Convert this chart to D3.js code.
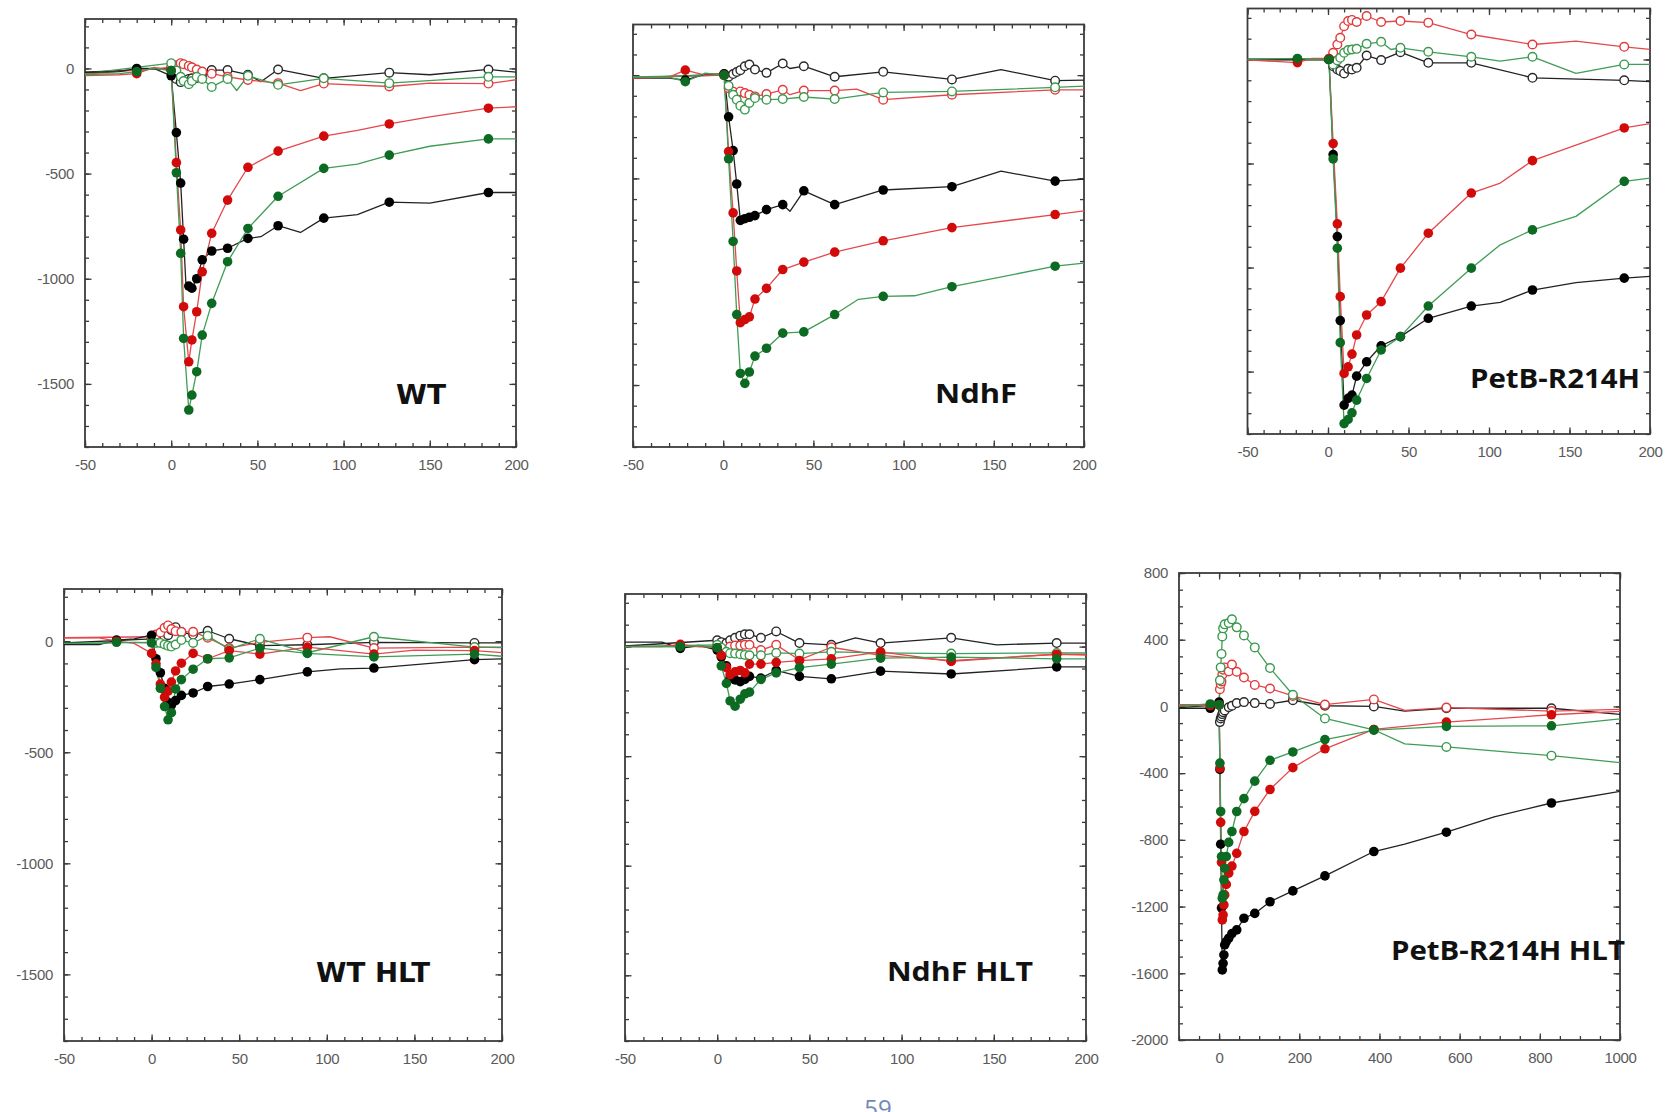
<!DOCTYPE html>
<html>
<head>
<meta charset="utf-8">
<script src="https://cdn.jsdelivr.net/npm/d3@7"></script>
<style>
  body { margin: 0; background: #fff; }
  svg { display: block; }
</style>
</head>
<body>
<svg id="chart" width="1669" height="1112"></svg>
<script>
// ---------- tick labels ----------
const xTicksShort = [-50, 0, 50, 100, 150, 200];
const xMinorShort = d3.range(-50, 201, 10);
const yTicksMain = [0, -500, -1000, -1500];
const yMinorMain = d3.range(-1800, 201, 100);
const xTicksLong = [0, 200, 400, 600, 800, 1000];
const xMinorLong = d3.range(-100, 1001, 50);
const yTicksLong = [800, 400, 0, -400, -800, -1200, -1600, -2000];
const yMinorLong = d3.range(-2000, 801, 100);

// ---------- WT ----------
const wtMarks = [-20, 0, 3, 5.5, 7.2, 10.2, 12, 14.8, 18, 23.5, 32.7, 44.5, 62, 88.5, 126.5, 184];
const wtFilledBlack = [[-55,-20],[-30,-15],[-20,0],[-10,0],[0,-35],[3,-305],[5.5,-545],[7.2,-812],[8.5,-1020],[10.2,-1035],[12,-1045],[14.8,-1000],[18,-910],[23.5,-868],[32.7,-855],[44.5,-808],[52,-800],[62,-748],[75,-780],[88.5,-712],[108,-695],[126.5,-636],[150,-640],[184,-590],[205,-590]];
const wtFilledRed = [[-55,-35],[-30,-30],[-20,-25],[-10,5],[0,-10],[3,-448],[5.5,-768],[7.2,-1133],[10.2,-1395],[12,-1291],[14.8,-1157],[18,-967],[23.5,-784],[32.7,-626],[44.5,-470],[62,-393],[88.5,-322],[108,-295],[126.5,-264],[150,-230],[184,-189],[205,-180]];
const wtFilledGreen = [[-55,-30],[-30,-25],[-20,-15],[-10,0],[0,-10],[3,-496],[5.5,-879],[7.2,-1284],[10.2,-1624],[12,-1553],[14.8,-1442],[18,-1268],[23.5,-1117],[32.7,-919],[44.5,-761],[62,-608],[88.5,-475],[108,-455],[126.5,-412],[150,-370],[184,-335],[205,-335]];
const wtOpenBlack = [[-55,-20],[0,0],[3,-50],[5.5,-65],[7.2,-55],[10.2,-50],[12,-47],[14.8,-45],[18,-45],[23.5,-8],[32.7,-8],[44.5,-30],[52,-63],[62,-5],[88.5,-47],[126.5,-20],[150,-30],[184,-5],[205,-22]];
const wtOpenRed = [[-55,-30],[0,5],[3,15],[5.5,25],[7.2,20],[10.2,12],[12,5],[14.8,-5],[18,-15],[23.5,-25],[32.7,-40],[44.5,-55],[62,-70],[75,-105],[88.5,-72],[126.5,-86],[150,-70],[184,-72],[205,-48]];
const wtOpenGreen = [[-55,-30],[0,25],[3,-10],[5.5,-40],[7.2,-60],[10.2,-75],[12,-60],[14.8,-40],[18,-50],[23.5,-88],[32.7,-50],[38,-105],[44.5,-35],[62,-78],[88.5,-47],[126.5,-70],[184,-40],[205,-40]];

// ---------- NdhF ----------
const ndhfMarks = [-21, 0.5, 3, 5.5, 7.5, 9.5, 12, 14.5, 17.6, 24, 33, 44.7, 61.8, 88.7, 126.8, 184];
const ndhfFilledBlack = [[-55,-15],[-30,-15],[-21,-24],[-10,5],[0.5,5],[3,-202],[5.5,-365],[7.5,-527],[9.5,-703],[12,-695],[14.5,-688],[17.6,-680],[24,-651],[33,-627],[37,-659],[44.7,-560],[61.8,-627],[88.7,-556],[126.8,-540],[154,-465],[184,-513],[205,-500]];
const ndhfFilledRed = [[-55,-15],[-30,-10],[-21,24],[-10,0],[0.5,0],[3,-370],[5.5,-667],[7.5,-948],[9.5,-1198],[12,-1183],[14.5,-1170],[17.6,-1084],[24,-1032],[33,-941],[44.7,-905],[61.8,-857],[88.7,-802],[126.8,-738],[184,-675],[205,-651]];
const ndhfFilledGreen = [[-55,-10],[-30,-10],[-21,-32],[-10,10],[0.5,0],[3,-405],[5.5,-805],[7.5,-1159],[9.5,-1444],[12,-1492],[14.5,-1437],[17.6,-1360],[24,-1322],[33,-1249],[44.7,-1243],[61.8,-1159],[75,-1085],[88.7,-1071],[106,-1068],[126.8,-1024],[184,-925],[205,-905]];
const ndhfOpenBlack = [[-55,-15],[0.5,5],[3,-8],[5.5,5],[7.5,15],[9.5,24],[12,43],[14.5,51],[17.6,27],[24,11],[33,56],[37,32],[44.7,43],[61.8,-8],[88.7,16],[126.8,-21],[154,27],[184,-27],[205,-24]];
const ndhfOpenRed = [[-55,-15],[0.5,0],[3,-63],[5.5,-80],[7.5,-95],[9.5,-79],[12,-87],[14.5,-95],[17.6,-103],[24,-92],[33,-71],[37,-95],[44.7,-75],[61.8,-75],[74,-68],[88.7,-119],[126.8,-95],[184,-71],[205,-71]];
const ndhfOpenGreen = [[-55,-10],[0.5,0],[3,-52],[5.5,-95],[7.5,-119],[9.5,-148],[12,-167],[14.5,-135],[17.6,-111],[24,-119],[33,-116],[44.7,-106],[61.8,-116],[88.7,-84],[126.8,-79],[184,-59],[205,-52]];

// ---------- PetB-R214H ----------
const petbMarks = [-19, 0.6, 3.2, 5.8, 7.6, 10, 12.5, 14.9, 17.8, 24, 33, 45, 62.3, 89, 127, 184];
const petbFilledBlack = [[-55,0],[-19,0],[-10,0],[0.6,0],[3.2,-457],[5.8,-851],[7.6,-1255],[10,-1661],[12.5,-1629],[14.9,-1613],[17.8,-1522],[24,-1453],[33,-1376],[45,-1332],[62.3,-1244],[89,-1185],[107,-1167],[127,-1108],[154,-1072],[184,-1051],[205,-1040]];
const petbFilledRed = [[-55,0],[-19,-15],[-10,5],[0.6,5],[3.2,-404],[5.8,-790],[7.6,-1140],[10,-1509],[12.5,-1477],[14.9,-1416],[17.8,-1324],[24,-1228],[33,-1164],[45,-1003],[62.3,-835],[89,-642],[107,-594],[127,-486],[184,-329],[205,-302]];
const petbFilledGreen = [[-55,0],[-19,5],[-10,0],[0.6,0],[3.2,-478],[5.8,-907],[7.6,-1361],[10,-1750],[12.5,-1730],[14.9,-1698],[17.8,-1637],[24,-1533],[33,-1396],[45,-1332],[62.3,-1185],[89,-1003],[107,-891],[127,-819],[154,-754],[184,-586],[205,-565]];
const petbOpenBlack = [[-55,0],[0.6,0],[3.2,-32],[5.8,-48],[7.6,-55],[10,-67],[12.5,-45],[14.9,-48],[17.8,-40],[24,19],[33,-3],[45,35],[62.3,-16],[89,-16],[127,-88],[184,-100],[205,-109]];
const petbOpenRed = [[-55,0],[0.6,0],[3.2,32],[5.8,72],[7.6,104],[10,160],[12.5,185],[14.9,190],[17.8,180],[24,209],[33,180],[45,185],[62.3,177],[89,120],[127,72],[154,88],[184,61],[205,45]];
const petbOpenGreen = [[-55,0],[0.6,0],[3.2,-24],[5.8,-5],[7.6,8],[10,32],[12.5,45],[14.9,48],[17.8,51],[24,75],[33,85],[39,48],[45,56],[62.3,37],[89,13],[107,-8],[127,13],[154,-67],[184,-24],[205,-24]];

// ---------- WT HLT ----------
const wtHltMarks = [-20, 0, 2.5, 5, 7.4, 9.4, 11.3, 13.7, 17, 23.7, 32, 44.3, 61.8, 88.9, 126.9, 184.3];
const wtHltFilledBlack = [[-55,-15],[-30,-15],[-20,5],[-10,10],[0,27],[2.5,-79],[5,-142],[7.4,-212],[9.4,-275],[11.3,-288],[13.7,-267],[17,-244],[23.7,-233],[32,-204],[44.3,-193],[61.8,-173],[88.9,-138],[108,-125],[126.9,-121],[184.3,-83],[205,-79]];
const wtHltFilledRed = [[-55,15],[-30,15],[-20,0],[-10,-10],[0,-55],[2.5,-102],[5,-193],[7.4,-252],[9.4,-225],[11.3,-184],[13.7,-134],[17,-99],[23.7,-55],[32,-79],[44.3,-42],[61.8,-58],[88.9,-27],[126.9,-58],[150,-40],[184.3,-42],[205,-55]];
const wtHltFilledGreen = [[-55,-10],[-30,-10],[-20,-5],[-10,-5],[0,-8],[2.5,-118],[5,-212],[7.4,-294],[9.4,-354],[11.3,-322],[13.7,-215],[17,-173],[23.7,-126],[32,-79],[44.3,-75],[61.8,-31],[88.9,-55],[126.9,-71],[184.3,-58],[205,-71]];
const wtHltOpenBlack = [[-55,-10],[0,10],[2.5,15],[5,16],[7.4,20],[9.4,27],[11.3,50],[13.7,63],[17,40],[23.7,30],[32,47],[44.3,11],[61.8,-20],[88.9,-16],[126.9,-5],[184.3,-8],[205,-8]];
const wtHltOpenRed = [[-55,15],[0,20],[2.5,30],[5,39],[7.4,60],[9.4,71],[11.3,55],[13.7,45],[17,42],[23.7,42],[32,16],[44.3,-31],[61.8,-5],[88.9,16],[101.7,20],[126.9,-31],[184.3,-27],[205,-30]];
const wtHltOpenGreen = [[-55,-10],[0,-5],[2.5,-8],[5,-8],[7.4,-15],[9.4,-20],[11.3,-24],[13.7,-15],[17,5],[23.7,-8],[32,24],[44.3,-36],[61.8,11],[88.9,-52],[126.9,20],[184.3,-27],[205,-27]];

// ---------- NdhF HLT ----------
const ndhfHltMarks = [-20, 0, 2.2, 5, 7, 9.7, 12.5, 15, 17.5, 23.7, 32, 44.6, 61.9, 88.6, 126.9, 184.1];
const ndhfHltFilledBlack = [[-55,20],[-30,20],[-20,-8],[-10,5],[0,-16],[2.2,-48],[5,-88],[7,-144],[9.7,-152],[12.5,-160],[15,-150],[17.5,-136],[23.7,-144],[32,-109],[44.6,-136],[61.9,-147],[88.6,-112],[126.9,-125],[184.1,-93],[205,-93]];
const ndhfHltFilledRed = [[-55,0],[-30,0],[-20,10],[-10,0],[0,-5],[2.2,-40],[5,-96],[7,-128],[9.7,-115],[12.5,-109],[15,-120],[17.5,-80],[23.7,-80],[32,-72],[44.6,-64],[61.9,-56],[88.6,-24],[126.9,-67],[184.1,-35],[205,-40]];
const ndhfHltFilledGreen = [[-55,0],[-20,0],[-10,5],[0,-5],[2.2,-88],[5,-168],[7,-248],[9.7,-272],[12.5,-240],[15,-216],[17.5,-208],[23.7,-150],[32,-120],[44.6,-96],[61.9,-80],[88.6,-53],[126.9,-48],[184.1,-56],[205,-56]];
const ndhfHltOpenBlack = [[-55,0],[0,29],[2.2,20],[5,16],[7,29],[9.7,40],[12.5,50],[15,56],[17.5,56],[23.7,40],[32,69],[44.6,16],[61.9,8],[75,40],[88.6,16],[126.9,40],[151.5,8],[184.1,16],[205,16]];
const ndhfHltOpenRed = [[-55,0],[0,0],[2.2,-24],[5,-20],[7,0],[9.7,5],[12.5,5],[15,8],[17.5,8],[23.7,-16],[32,8],[44.6,-61],[61.9,-3],[88.6,-40],[126.9,-64],[184.1,-35],[205,-35]];
const ndhfHltOpenGreen = [[-55,0],[0,8],[2.2,-5],[5,-24],[7,-30],[9.7,-32],[12.5,-35],[15,-38],[17.5,-40],[23.7,-40],[32,-29],[44.6,-32],[61.9,-24],[88.6,-29],[126.9,-32],[184.1,-29],[205,-29]];

// ---------- PetB-R214H HLT ----------
const petbHltMarks = [-22, 0, 2, 4, 6, 8, 10, 12, 14, 18, 24, 32, 44, 62, 89, 127, 184, 264, 386, 567, 829];
const petbHltFilledBlack = [[-120,-11],[-22,-11],[0,26],[2,-378],[4,-826],[6,-1208],[8,-1580],[10,-1540],[12,-1490],[14,-1430],[18,-1410],[24,-1390],[32,-1362],[44,-1340],[62,-1270],[89,-1241],[127,-1171],[184,-1106],[264,-1016],[386,-870],[463,-826],[567,-754],[686,-662],[829,-579],[1010,-505]];
const petbHltFilledRed = [[-120,11],[-22,5],[0,10],[2,-370],[4,-695],[6,-935],[8,-1280],[10,-1250],[12,-1190],[14,-1130],[18,-1067],[24,-1000],[32,-957],[44,-881],[62,-750],[89,-629],[127,-498],[184,-367],[264,-254],[386,-138],[567,-94],[829,-50],[1010,-28]];
const petbHltFilledGreen = [[-120,0],[-22,15],[0,10],[2,-340],[4,-630],[6,-900],[8,-1150],[10,-1130],[12,-1040],[14,-970],[18,-900],[24,-815],[32,-750],[44,-630],[62,-553],[89,-448],[127,-323],[184,-273],[264,-199],[386,-142],[567,-120],[829,-116],[1010,-72]];
const petbHltOpenBlack = [[-120,-11],[0,10],[2,-94],[4,-72],[6,-60],[8,-46],[10,-35],[14,-24],[24,-5],[32,4],[44,20],[62,26],[89,20],[127,15],[184,37],[264,4],[386,0],[463,-28],[567,-11],[829,-11],[1010,-50]];
const petbHltOpenRed = [[-120,11],[0,10],[2,103],[4,135],[6,150],[8,190],[10,220],[14,234],[24,210],[32,251],[44,208],[62,173],[89,129],[127,107],[184,63],[264,11],[386,42],[463,-24],[567,-7],[829,-28],[1010,-17]];
const petbHltOpenGreen = [[-120,0],[0,10],[2,157],[4,234],[6,315],[8,420],[10,468],[14,492],[24,500],[32,522],[44,474],[62,426],[89,354],[127,230],[184,70],[264,-72],[386,-140],[463,-225],[567,-243],[829,-295],[1010,-339]];

// ---------- styling ----------
const palette = {
  black: { line: "#222222", fill: "#000000", ring: "#2a2a2a" },
  red:   { line: "#e5484c", fill: "#d10a0a", ring: "#e23a3a" },
  green: { line: "#3f9d55", fill: "#0c6a22", ring: "#3a9a4e" }
};

function seriesSet(ob, or, og, fb, fr, fg) {
  return [
    { data: ob, color: "black", filled: false },
    { data: or, color: "red",   filled: false },
    { data: og, color: "green", filled: false },
    { data: fb, color: "black", filled: true },
    { data: fr, color: "red",   filled: true },
    { data: fg, color: "green", filled: true }
  ];
}

const panels = [
  { id: "wt", box: [85, 19, 516, 447], xd: [-50, 200], yd: [-1800, 235], long: false, yLabels: true,
    marks: wtMarks, series: seriesSet(wtOpenBlack, wtOpenRed, wtOpenGreen, wtFilledBlack, wtFilledRed, wtFilledGreen),
    title: "WT", tx: 396, ty: 404, tw: 50, font: "DejaVu Sans", fs: 27 },
  { id: "ndhf", box: [633, 24.5, 1084, 447], xd: [-50, 200], yd: [-1800, 245], long: false, yLabels: false,
    marks: ndhfMarks, series: seriesSet(ndhfOpenBlack, ndhfOpenRed, ndhfOpenGreen, ndhfFilledBlack, ndhfFilledRed, ndhfFilledGreen),
    title: "NdhF", tx: 935, ty: 403, tw: 82, font: "Open Sans", fs: 27 },
  { id: "petb", box: [1247.5, 8.5, 1650, 434], xd: [-50, 200], yd: [-1800, 245], long: false, yLabels: false,
    marks: petbMarks, series: seriesSet(petbOpenBlack, petbOpenRed, petbOpenGreen, petbFilledBlack, petbFilledRed, petbFilledGreen),
    title: "PetB-R214H", tx: 1470, ty: 388, tw: 170, font: "Open Sans", fs: 26 },
  { id: "wthlt", box: [64, 589, 502, 1041], xd: [-50, 200], yd: [-1800, 235], long: false, yLabels: true,
    marks: wtHltMarks, series: seriesSet(wtHltOpenBlack, wtHltOpenRed, wtHltOpenGreen, wtHltFilledBlack, wtHltFilledRed, wtHltFilledGreen),
    title: "WT HLT", tx: 316, ty: 982, tw: 114, font: "DejaVu Sans", fs: 27 },
  { id: "ndhfhlt", box: [625, 594, 1086, 1041], xd: [-50, 200], yd: [-1800, 240], long: false, yLabels: false,
    marks: ndhfHltMarks, series: seriesSet(ndhfHltOpenBlack, ndhfHltOpenRed, ndhfHltOpenGreen, ndhfHltFilledBlack, ndhfHltFilledRed, ndhfHltFilledGreen),
    title: "NdhF HLT", tx: 887, ty: 981, tw: 146, font: "Open Sans", fs: 27 },
  { id: "petbhlt", box: [1179, 573, 1620, 1040], xd: [-100, 1000], yd: [-2000, 800], long: true, yLabels: true,
    marks: petbHltMarks, series: seriesSet(petbHltOpenBlack, petbHltOpenRed, petbHltOpenGreen, petbHltFilledBlack, petbHltFilledRed, petbHltFilledGreen),
    title: "PetB-R214H HLT", tx: 1391, ty: 960, tw: 234, font: "Open Sans", fs: 26 }
];

const svg = d3.select("#chart");
const defs = svg.append("defs");
const fmt = d => String(d);

function styleAxis(sel) {
  sel.select(".domain").remove();
  sel.selectAll(".tick line").attr("stroke", "#3a3a3a").attr("stroke-width", 1.3);
  sel.selectAll(".tick text")
    .attr("fill", "#5a5a5a")
    .attr("font-family", "'Liberation Sans', Arial, sans-serif")
    .attr("font-size", 15)
    .attr("letter-spacing", -0.3);
}

panels.forEach(p => {
  const [left, top, right, bottom] = p.box;
  const x = d3.scaleLinear().domain(p.xd).range([left, right]);
  const y = d3.scaleLinear().domain(p.yd).range([bottom, top]);
  const g = svg.append("g").attr("class", "panel-" + p.id);

  const xMajor = p.long ? xTicksLong : xTicksShort;
  const xMinor = p.long ? xMinorLong : xMinorShort;
  const yMajor = p.long ? yTicksLong : yTicksMain;
  const yMinor = p.long ? yMinorLong : yMinorMain.filter(v => v >= p.yd[0] && v <= p.yd[1]);

  // inward ticks on all four sides
  g.append("g").attr("transform", `translate(0,${bottom})`)
    .call(d3.axisBottom(x).tickValues(xMinor).tickSize(-4).tickFormat("")).call(styleAxis);
  g.append("g").attr("transform", `translate(0,${bottom})`)
    .call(d3.axisBottom(x).tickValues(xMajor).tickSize(-6.5).tickPadding(12).tickFormat(fmt)).call(styleAxis);
  g.append("g").attr("transform", `translate(0,${top})`)
    .call(d3.axisTop(x).tickValues(xMinor).tickSize(-4).tickFormat("")).call(styleAxis);
  g.append("g").attr("transform", `translate(0,${top})`)
    .call(d3.axisTop(x).tickValues(xMajor).tickSize(-6.5).tickFormat("")).call(styleAxis);

  g.append("g").attr("transform", `translate(${left},0)`)
    .call(d3.axisLeft(y).tickValues(yMinor).tickSize(-4).tickFormat("")).call(styleAxis);
  g.append("g").attr("transform", `translate(${left},0)`)
    .call(d3.axisLeft(y).tickValues(yMajor).tickSize(-6.5).tickPadding(11)
      .tickFormat(p.yLabels ? fmt : "")).call(styleAxis);
  g.append("g").attr("transform", `translate(${right},0)`)
    .call(d3.axisRight(y).tickValues(yMinor).tickSize(-4).tickFormat("")).call(styleAxis);
  g.append("g").attr("transform", `translate(${right},0)`)
    .call(d3.axisRight(y).tickValues(yMajor).tickSize(-6.5).tickFormat("")).call(styleAxis);

  // plot frame
  g.append("rect")
    .attr("x", left).attr("y", top)
    .attr("width", right - left).attr("height", bottom - top)
    .attr("fill", "none").attr("stroke", "#3c3c3c").attr("stroke-width", 1.8);

  defs.append("clipPath").attr("id", "clip-" + p.id)
    .append("rect").attr("x", left).attr("y", top)
    .attr("width", right - left).attr("height", bottom - top);

  const plot = g.append("g").attr("clip-path", `url(#clip-${p.id})`);
  const line = d3.line().x(d => x(d[0])).y(d => y(d[1]));
  const marked = new Set(p.marks);

  // traces
  p.series.forEach(s => {
    plot.append("path").datum(s.data)
      .attr("d", line)
      .attr("fill", "none")
      .attr("stroke", palette[s.color].line)
      .attr("stroke-width", 1.3)
      .attr("stroke-linejoin", "round");
  });

  // open symbols, then filled symbols on top
  p.series.filter(s => !s.filled).forEach(s => {
    plot.append("g").selectAll("circle")
      .data(s.data.filter(d => marked.has(d[0])))
      .join("circle")
      .attr("cx", d => x(d[0])).attr("cy", d => y(d[1]))
      .attr("r", 4.3)
      .attr("fill", "#fff")
      .attr("stroke", palette[s.color].ring)
      .attr("stroke-width", 1.4);
  });
  p.series.filter(s => s.filled).forEach(s => {
    plot.append("g").selectAll("circle")
      .data(s.data.filter(d => marked.has(d[0])))
      .join("circle")
      .attr("cx", d => x(d[0])).attr("cy", d => y(d[1]))
      .attr("r", 4.8)
      .attr("fill", palette[s.color].fill);
  });

  // panel name
  svg.append("text")
    .attr("x", p.tx).attr("y", p.ty)
    .attr("font-family", `'${p.font}', sans-serif`)
    .attr("font-weight", 700)
    .attr("font-size", p.fs)
    .attr("fill", "#111")
    .attr("textLength", p.tw)
    .attr("lengthAdjust", "spacingAndGlyphs")
    .text(p.title);
});

// page number sitting on the bottom edge
svg.append("text")
  .attr("x", 878).attr("y", 1117)
  .attr("text-anchor", "middle")
  .attr("font-family", "'Open Sans', sans-serif")
  .attr("font-size", 24)
  .attr("fill", "#6f8bb5")
  .text("59");
</script>
</body>
</html>
